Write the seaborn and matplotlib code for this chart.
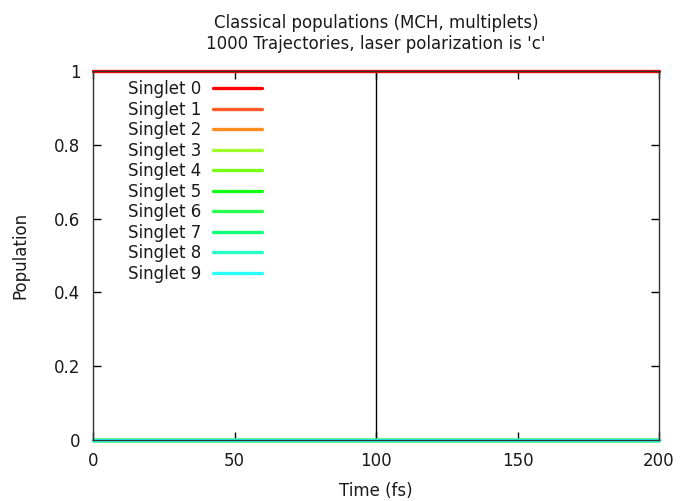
import matplotlib
matplotlib.use("Agg")
import matplotlib.pyplot as plt
import matplotlib.colors as mcolors
import seaborn as sns
import pandas as pd

# Simulation time grid (fs) and classical state populations
time_fs = [0, 50, 100, 150, 200]
states = ["Singlet 0", "Singlet 1", "Singlet 2", "Singlet 3", "Singlet 4",
          "Singlet 5", "Singlet 6", "Singlet 7", "Singlet 8", "Singlet 9"]
pop_s0 = [1.0, 1.0, 1.0, 1.0, 1.0]
pop_s1 = [0.0, 0.0, 0.0, 0.0, 0.0]
pop_s2 = [0.0, 0.0, 0.0, 0.0, 0.0]
pop_s3 = [0.0, 0.0, 0.0, 0.0, 0.0]
pop_s4 = [0.0, 0.0, 0.0, 0.0, 0.0]
pop_s5 = [0.0, 0.0, 0.0, 0.0, 0.0]
pop_s6 = [0.0, 0.0, 0.0, 0.0, 0.0]
pop_s7 = [0.0, 0.0, 0.0, 0.0, 0.0]
pop_s8 = [0.0, 0.0, 0.0, 0.0, 0.0]
pop_s9 = [0.0, 0.0, 0.0, 0.0, 0.0]
populations = [pop_s0, pop_s1, pop_s2, pop_s3, pop_s4,
               pop_s5, pop_s6, pop_s7, pop_s8, pop_s9]
colors = ["#ff0000", "#ff5a28", "#ff8c1e", "#a0ff28", "#78ff14",
          "#14ff14", "#28ff50", "#14ff78", "#28ffc8", "#28ffff"]
x_ticks = [0, 50, 100, 150, 200]
y_ticks = [0, 0.2, 0.4, 0.6, 0.8, 1.0]
y_tick_labels = ["0", "0.2", "0.4", "0.6", "0.8", "1"]
marker_time = 100

rows = []
for name, pops in zip(states, populations):
    for t, p in zip(time_fs, pops):
        rows.append({"Time (fs)": t, "Population": p, "State": name})
df = pd.DataFrame(rows)

sns.set_theme(style="ticks")
plt.rcParams["font.family"] = ["DejaVu Sans"]
fs = 12
txt = "#1a1a1a"

fig = plt.figure(figsize=(6.8, 5.01), dpi=100)
ax = fig.add_axes([93 / 680, 1 - 440 / 501, (659 - 93) / 680, (440 - 71) / 501])

sns.lineplot(data=df, x="Time (fs)", y="Population", hue="State",
             hue_order=states, palette=colors, linewidth=2.4, ax=ax)

# stack curves so that higher states are painted last
rgb_list = [mcolors.to_hex(c) for c in colors]
for ln in ax.get_lines():
    c = mcolors.to_hex(ln.get_color())
    idx = rgb_list.index(c) if c in rgb_list else 0
    ln.set_zorder(3 + idx * 0.05)
    ln.set_clip_on(False)

ax.axvline(marker_time, color="black", linewidth=1.0, zorder=2)

ax.set_xlim(0, 200)
ax.set_ylim(0, 1)
ax.set_xticks(x_ticks)
ax.set_xticklabels([str(v) for v in x_ticks])
ax.set_yticks(y_ticks)
ax.set_yticklabels(y_tick_labels)
ax.tick_params(direction="in", length=6, width=1, top=True, right=True,
               labelsize=fs, colors="black", labelcolor=txt, pad=9)
for sp in ax.spines.values():
    sp.set_linewidth(1.0)
    sp.set_color("#333333")
    sp.set_zorder(4)

ax.set_xlabel("Time (fs)", fontsize=fs, labelpad=8, color=txt)
ax.set_ylabel("Population", fontsize=fs, labelpad=18, color=txt)
ax.set_title("Classical populations (MCH, multiplets)\n1000 Trajectories, laser polarization is 'c'",
             fontsize=fs, pad=16, linespacing=1.2, color=txt)

leg = ax.legend(loc="upper left", bbox_to_anchor=(0.05, 0.993), frameon=False,
                fontsize=fs, handlelength=2.95, handletextpad=0.7,
                labelspacing=0.15, borderaxespad=0.0, markerfirst=False)
for t in leg.get_texts():
    t.set_color(txt)
for h in leg.get_lines():
    h.set_linewidth(2.4)

fig.savefig("out.png", dpi=100)
